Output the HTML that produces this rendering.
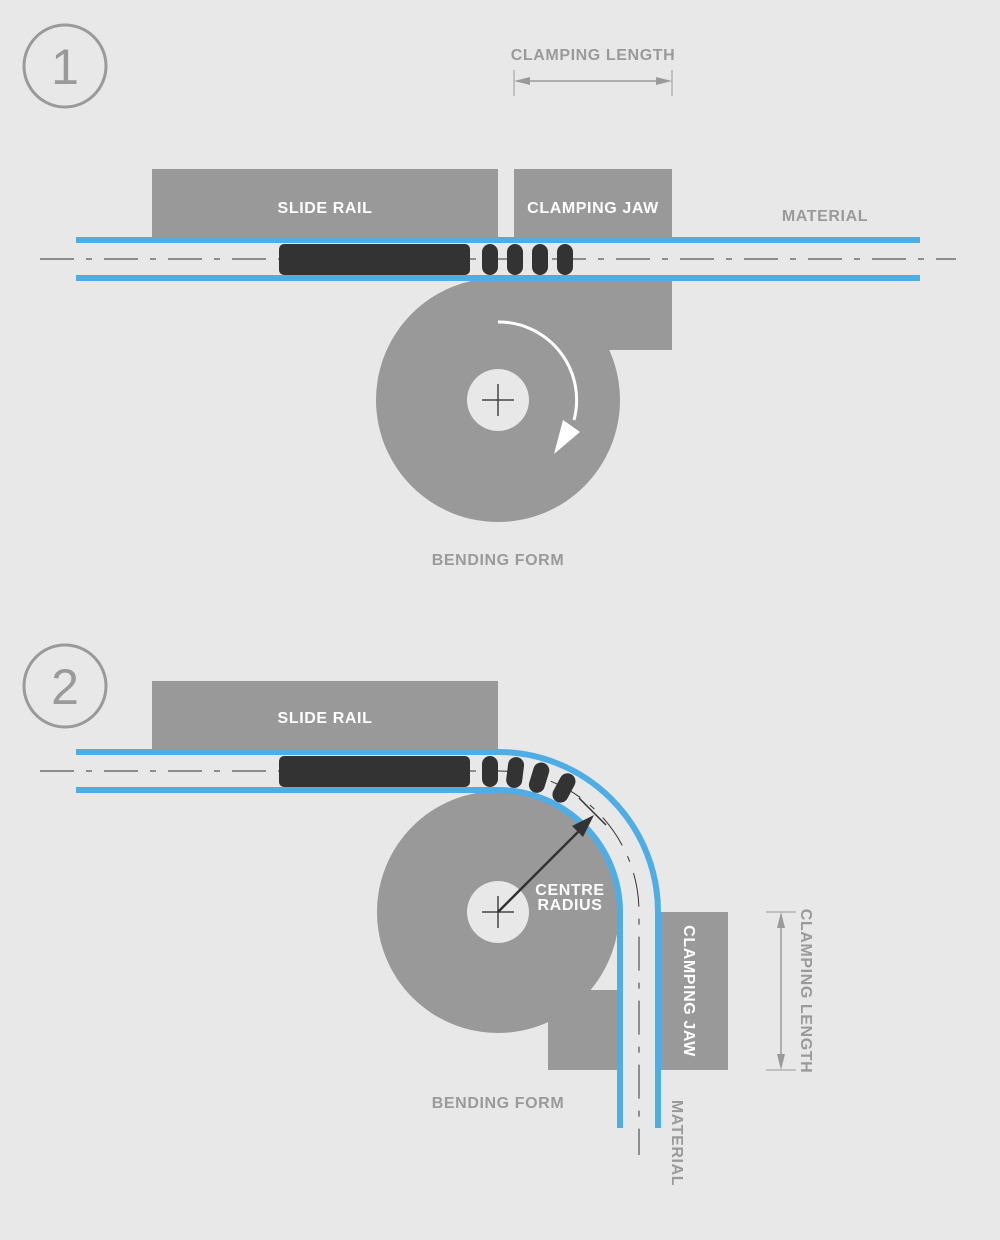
<!DOCTYPE html>
<html><head><style>
body{margin:0;background:#e8e8e8}
svg{display:block}
text{font-family:"Liberation Sans",sans-serif;font-weight:bold;letter-spacing:0.6px}
</style></head><body>
<svg width="1000" height="1240" viewBox="0 0 1000 1240" xmlns="http://www.w3.org/2000/svg">
<rect width="1000" height="1240" fill="#e8e8e8"/>
<!-- Diagram 1 -->
<circle cx="65" cy="66" r="41" fill="none" stroke="#9a9a9a" stroke-width="3"/>
<text x="65" y="84" font-size="50" fill="#9a9a9a" text-anchor="middle" style="font-weight:normal;letter-spacing:0">1</text>
<text x="593" y="60" font-size="16" fill="#9a9a9a" text-anchor="middle">CLAMPING LENGTH</text>
<line x1="514" y1="70" x2="514" y2="96" stroke="#9a9a9a" stroke-width="1"/>
<line x1="672" y1="70" x2="672" y2="96" stroke="#9a9a9a" stroke-width="1"/>
<line x1="518" y1="81" x2="668" y2="81" stroke="#9a9a9a" stroke-width="1.5"/>
<polygon points="514,81 530,77 530,85" fill="#9a9a9a"/>
<polygon points="672,81 656,77 656,85" fill="#9a9a9a"/>
<rect x="152" y="169" width="346" height="70" fill="#999"/>
<rect x="514" y="169" width="158" height="70" fill="#999"/>
<text x="325" y="213" font-size="16" fill="#fff" text-anchor="middle">SLIDE RAIL</text>
<text x="593" y="213" font-size="16" fill="#fff" text-anchor="middle">CLAMPING JAW</text>
<text x="825" y="221" font-size="16" fill="#9a9a9a" text-anchor="middle">MATERIAL</text>
<circle cx="498" cy="400" r="122" fill="#999"/>
<rect x="498" y="281" width="174" height="69" fill="#999"/>
<rect x="76" y="243" width="844" height="32" fill="#e8e8e8"/>
<line x1="40" y1="259" x2="956" y2="259" stroke="#333" stroke-width="1" stroke-dasharray="34,12,6,12"/>
<rect x="76" y="237" width="844" height="6" fill="#4fade6"/>
<rect x="76" y="275" width="844" height="6" fill="#4fade6"/>
<rect x="279" y="244" width="191" height="31" rx="5" fill="#333"/>
<rect x="482" y="244" width="16" height="31" rx="8" fill="#333"/>
<rect x="507" y="244" width="16" height="31" rx="8" fill="#333"/>
<rect x="532" y="244" width="16" height="31" rx="8" fill="#333"/>
<rect x="557" y="244" width="16" height="31" rx="8" fill="#333"/>
<circle cx="498" cy="400" r="31" fill="#e8e8e8"/>
<line x1="482" y1="400" x2="514" y2="400" stroke="#444" stroke-width="1.5"/>
<line x1="498" y1="384" x2="498" y2="416" stroke="#444" stroke-width="1.5"/>
<path d="M498 322 A78 78 0 0 1 574 420" fill="none" stroke="#fff" stroke-width="3"/>
<polygon points="554,454 563,420 580,432" fill="#fff"/>
<text x="498" y="565" font-size="16" fill="#9a9a9a" text-anchor="middle">BENDING FORM</text>
<!-- Diagram 2 -->
<circle cx="65" cy="686" r="41" fill="none" stroke="#9a9a9a" stroke-width="3"/>
<text x="65" y="704" font-size="50" fill="#9a9a9a" text-anchor="middle" style="font-weight:normal;letter-spacing:0">2</text>
<rect x="152" y="681" width="346" height="70" fill="#999"/>
<text x="325" y="723" font-size="16" fill="#fff" text-anchor="middle">SLIDE RAIL</text>
<circle cx="498" cy="912" r="121" fill="#999"/>
<rect x="548" y="990" width="72" height="80" fill="#999"/>
<rect x="660" y="912" width="68" height="158" fill="#999"/>
<text transform="translate(684,991) rotate(90)" font-size="16" fill="#fff" text-anchor="middle">CLAMPING JAW</text>
<path d="M76 771 L498 771 A141 141 0 0 1 639 912 L639 1128" fill="none" stroke="#e8e8e8" stroke-width="35"/>
<path d="M40 771 L498 771 A141 141 0 0 1 639 912 L639 1155" fill="none" stroke="#333" stroke-width="1" stroke-dasharray="34,12,6,12"/>
<path d="M76 752 L498 752 A160 160 0 0 1 658 912 L658 1128" fill="none" stroke="#4fade6" stroke-width="6"/>
<path d="M76 790 L498 790 A122 122 0 0 1 620 912 L620 1128" fill="none" stroke="#4fade6" stroke-width="6"/>
<rect x="279" y="756" width="191" height="31" rx="5" fill="#333"/>
<rect x="482" y="756" width="16" height="31" rx="8" fill="#333"/>
<g transform="translate(498,912)">
<rect x="-8" y="-156" width="16" height="31" rx="8" fill="#333" transform="rotate(7)"/>
<rect x="-8" y="-156" width="16" height="31" rx="8" fill="#333" transform="rotate(17)"/>
<rect x="-8" y="-156" width="16" height="31" rx="8" fill="#333" transform="rotate(28)"/>
</g>
<line x1="579" y1="798" x2="606" y2="825" stroke="#333" stroke-width="1.5"/>
<circle cx="498" cy="912" r="31" fill="#e8e8e8"/>
<line x1="482" y1="912" x2="514" y2="912" stroke="#444" stroke-width="1.5"/>
<line x1="498" y1="896" x2="498" y2="928" stroke="#444" stroke-width="1.5"/>
<line x1="498" y1="912" x2="584" y2="826" stroke="#333" stroke-width="2.5"/>
<polygon points="594,815 572,826 583,837" fill="#333"/>
<text x="570" y="895" font-size="16" fill="#fff" text-anchor="middle">CENTRE</text>
<text x="570" y="910" font-size="16" fill="#fff" text-anchor="middle">RADIUS</text>
<text x="498" y="1108" font-size="16" fill="#9a9a9a" text-anchor="middle">BENDING FORM</text>
<text transform="translate(672,1143) rotate(90)" font-size="16" fill="#9a9a9a" text-anchor="middle">MATERIAL</text>
<line x1="766" y1="912" x2="796" y2="912" stroke="#9a9a9a" stroke-width="1"/>
<line x1="766" y1="1070" x2="796" y2="1070" stroke="#9a9a9a" stroke-width="1"/>
<line x1="781" y1="916" x2="781" y2="1066" stroke="#9a9a9a" stroke-width="1.5"/>
<polygon points="781,912 777,928 785,928" fill="#9a9a9a"/>
<polygon points="781,1070 777,1054 785,1054" fill="#9a9a9a"/>
<text transform="translate(801,991) rotate(90)" font-size="16" fill="#9a9a9a" text-anchor="middle">CLAMPING LENGTH</text>
</svg>
</body></html>
